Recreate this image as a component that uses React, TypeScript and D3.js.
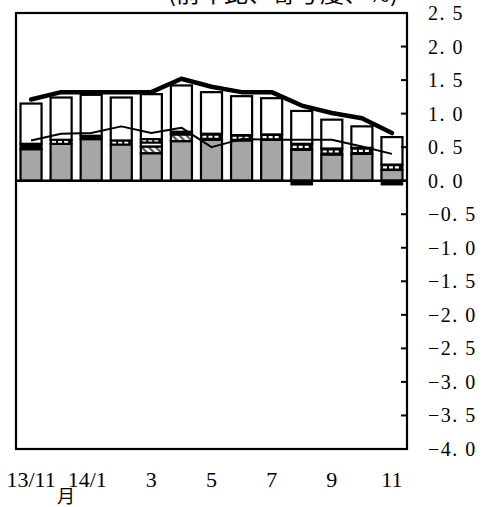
import React from "react";
import * as d3 from "d3";

const months = ["13/11", "12", "14/1", "2", "3", "4", "5", "6", "7", "8", "9", "10", "11"];
const monthLabels = ["13/11", "", "14/1", "", "3", "", "5", "", "7", "", "9", "", "11"];

const grayVals = [0.47, 0.55, 0.62, 0.54, 0.41, 0.59, 0.61, 0.6, 0.61, 0.46, 0.39, 0.4, 0.16];
const hatchVals = [0, 0, 0, 0, 0.1, 0.1, 0, 0, 0, 0, 0, 0, 0];
const blackVals = [0.08, 0, 0.05, 0, 0, 0.04, 0, 0, 0, 0, 0, 0, 0];
const gapVals = [0, 0, 0, 0, 0.06, 0, 0, 0, 0, 0, 0, 0, 0];
const dashedVals = [0, 0.06, 0, 0.06, 0.05, 0, 0.09, 0.08, 0.08, 0.09, 0.09, 0.09, 0.08];
const whiteVals = [0.6, 0.63, 0.61, 0.64, 0.67, 0.69, 0.62, 0.58, 0.54, 0.49, 0.43, 0.32, 0.41];
const negBlackVals = [0, 0, 0, 0, 0, 0, 0, 0, 0, -0.06, 0, 0, -0.06];

const thickLine = [1.21, 1.32, 1.32, 1.32, 1.32, 1.52, 1.4, 1.32, 1.32, 1.12, 1.01, 0.93, 0.71];
const thinLine = [0.6, 0.7, 0.71, 0.81, 0.71, 0.79, 0.5, 0.62, 0.61, 0.61, 0.61, 0.51, 0.4];

const yTicks = [2.5, 2.0, 1.5, 1.0, 0.5, 0.0, -0.5, -1.0, -1.5, -2.0, -2.5, -3.0, -3.5, -4.0];
const titleText = "(前年比、寄与度、%)";
const unitText = "月";

const W = 488;
const H = 507;
const L = 16, R = 407, T = 13, B = 449;

const seriesKeys = ["gray", "hatch", "black", "gap", "dashed", "white"];
const seriesData: Record<string, number[]> = {
  gray: grayVals,
  hatch: hatchVals,
  black: blackVals,
  gap: gapVals,
  dashed: dashedVals,
  white: whiteVals,
};
const fills: Record<string, string> = {
  gray: "#a6a6a6",
  hatch: "url(#hatch)",
  black: "#000",
  gap: "#fff",
  dashed: "#000",
  white: "#fff",
};

function fmt(v: number) {
  const s = Math.abs(v).toFixed(1).replace(".", ". ");
  return (v < 0 ? "\u2212" : "") + s;
}

export default function App() {
  const x = d3.scaleBand<string>().domain(months).range([L, R]).paddingInner(0.3).paddingOuter(0.15);
  const y = d3.scaleLinear().domain([-4, 2.5]).range([B, T]);
  const bw = x.bandwidth();
  const cx = (i: number) => (x(months[i]) as number) + bw / 2;

  const rows = months.map((m, i) => {
    const r: any = { m };
    seriesKeys.forEach((k) => (r[k] = seriesData[k][i]));
    return r;
  });
  const stacked = d3.stack<any>().keys(seriesKeys)(rows);

  const line = d3
    .line<number>()
    .x((_, i) => cx(i))
    .y((d) => y(d));

  return (
    <svg width={W} height={H} style={{ position: "absolute", left: 0, top: 0, background: "#fff" }}>
      <defs>
        <pattern id="hatch" patternUnits="userSpaceOnUse" width="5" height="5" patternTransform="rotate(-45)">
          <rect width="5" height="5" fill="#fff" />
          <rect width="2.2" height="5" fill="#555" />
        </pattern>
      </defs>
      <rect x={0} y={0} width={W} height={H} fill="#fff" />
      <text
        x={168}
        y={2}
        fontFamily="'Noto Sans CJK JP'"
        fontSize={22}
        textLength={230}
        lengthAdjust="spacingAndGlyphs"
        fill="#000"
      >
        {titleText}
      </text>

      {/* bars */}
      {stacked.map((layer) =>
        layer.map((seg, i) => {
          const v = seg[1] - seg[0];
          if (v <= 0) return null;
          const key = layer.key;
          const y0 = y(seg[0]);
          const y1 = y(seg[1]);
          if (key === "dashed") {
            return (
              <g key={key + i}>
                <rect x={x(months[i])} y={y1} width={bw} height={y0 - y1} fill="#000" stroke="#000" strokeWidth={2} />
                <line
                  x1={(x(months[i]) as number) + 1.5}
                  x2={(x(months[i]) as number) + bw - 1.5}
                  y1={(y0 + y1) / 2}
                  y2={(y0 + y1) / 2}
                  stroke="#fff"
                  strokeWidth={Math.max(1.2, Math.min(2.2, y0 - y1 - 2))}
                  strokeDasharray="4 2"
                />
              </g>
            );
          }
          return (
            <rect
              key={key + i}
              x={x(months[i])}
              y={y1}
              width={bw}
              height={y0 - y1}
              fill={fills[key]}
              stroke="#000"
              strokeWidth={2.2}
            />
          );
        })
      )}
      {negBlackVals.map((v, i) =>
        v < 0 ? (
          <rect key={"neg" + i} x={x(months[i])} y={y(0)} width={bw} height={y(v) - y(0)} fill="#000" stroke="#000" strokeWidth={1.5} />
        ) : null
      )}

      {/* lines */}
      <path d={line(thinLine) as string} fill="none" stroke="#000" strokeWidth={2} strokeLinejoin="round" />
      <path d={line(thickLine) as string} fill="none" stroke="#000" strokeWidth={4.5} strokeLinejoin="round" strokeLinecap="round" />

      {/* zero line */}
      <line x1={L} x2={R} y1={y(0)} y2={y(0)} stroke="#000" strokeWidth={2.5} />

      {/* frame */}
      <rect x={L} y={T} width={R - L} height={B - T} fill="none" stroke="#000" strokeWidth={2.2} />

      {/* right ticks */}
      {yTicks.map((t) => (
        <g key={"t" + t}>
          <line x1={R - 6} x2={R} y1={y(t)} y2={y(t)} stroke="#000" strokeWidth={2} />
          <text
            x={428}
            y={y(t) + 7}
            fontFamily="'Liberation Serif', serif"
            fontSize={20}
            letterSpacing={1.5}
            fill="#000"
          >
            {fmt(t)}
          </text>
        </g>
      ))}

      {/* x labels */}
      {monthLabels.map((lab, i) =>
        lab ? (
          <text
            key={"x" + i}
            x={cx(i) - (i === 2 ? 4 : 0)}
            y={487}
            textAnchor="middle"
            fontFamily="'Liberation Serif', serif"
            fontSize={22}
            fill="#000"
          >
            {lab}
          </text>
        ) : null
      )}
      <text x={66} y={503} textAnchor="middle" fontFamily="'Noto Sans CJK JP'" fontSize={18} fill="#000">
        {unitText}
      </text>
    </svg>
  );
}
